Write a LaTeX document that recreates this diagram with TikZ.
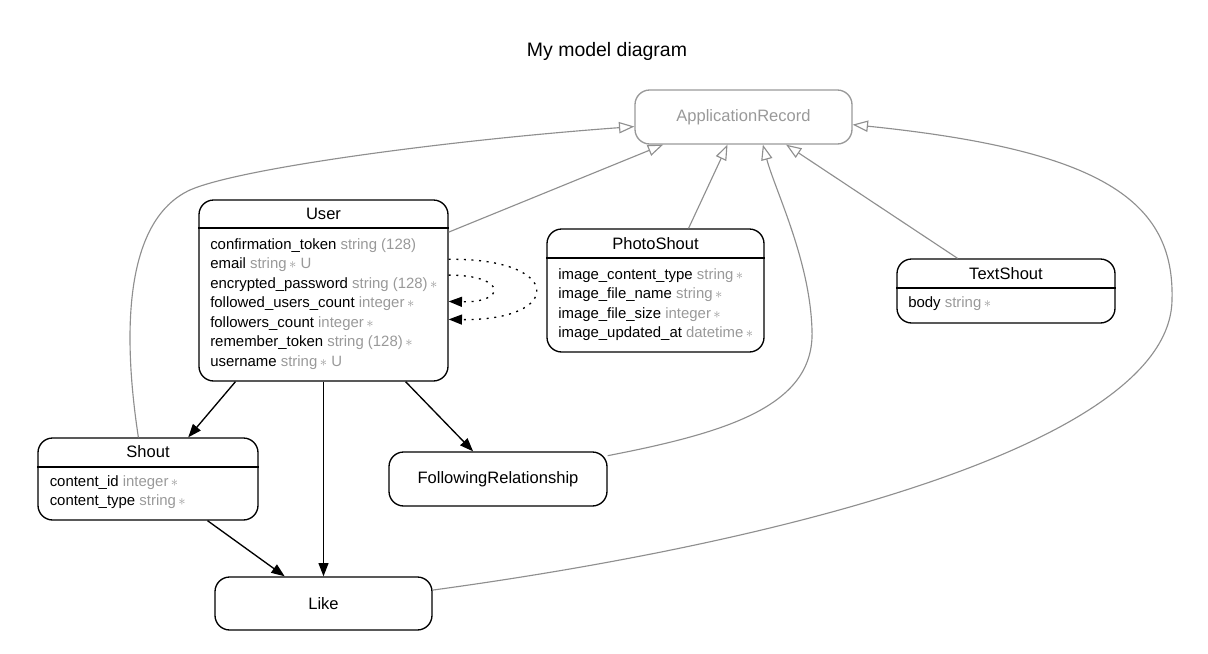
\documentclass[tikz,border=0pt]{standalone}
\usepackage{fontspec}
\setmainfont{Liberation Sans}
\usetikzlibrary{arrows.meta}
\definecolor{gr}{HTML}{999999}
\definecolor{grline}{HTML}{8F8F8F}
\newcommand\ty[1]{\textcolor{gr}{#1}}
\newcommand\reqstar{\,$\ast$}
\begin{document}
\begin{tikzpicture}[x=0.75pt,y=-0.75pt,
  box/.style={draw, line width=1pt, rounded corners=11pt, inner sep=0pt, font=\fontsize{12.4}{14}\selectfont},
  hdr/.style={font=\fontsize{12.4}{14}\selectfont, inner sep=0pt},
  attr/.style={font=\fontsize{11.2}{13}\selectfont, anchor=west, inner sep=0pt, text height=8pt, text depth=2pt},
  sepline/.style={line width=1pt},
  inh/.style={draw=grline, line width=0.85pt, -{Triangle[open, length=11.5pt, width=8.5pt]}},
  assoc/.style={draw=black, line width=1pt, -{Triangle[length=10pt, width=7.5pt]}},
  selfref/.style={draw=black, line width=1pt, dash pattern=on 1.5pt off 4.2pt, -{Triangle[length=10pt, width=7.5pt]}}]
\useasboundingbox (0,0) rectangle (1208,654);

\node[font=\fontsize{14.6}{17}\selectfont, inner sep=0pt] (title) at (607,51) {My model diagram};

% ApplicationRecord
\node[box, draw=gr, text=gr, minimum width=162.75pt, minimum height=40.5pt] (ar) at (743.5,117) {ApplicationRecord};

% User
\node[box, minimum width=186.75pt, minimum height=135.75pt] (user) at (323.5,290.5) {};
\coordinate (uline) at (0,228);
\draw[sepline] (user.west |- uline) -- (user.east |- uline);
\node[hdr] (userh) at (323.5,214) {User};
\node[attr] (u1) at (210,245) {confirmation\_token \ty{string (128)}};
\node[attr] (u2) at (210,264.5) {email \ty{string\reqstar{} U}};
\node[attr] (u3) at (210,284) {encrypted\_password \ty{string (128)\reqstar}};
\node[attr] (u4) at (210,303.5) {followed\_users\_count \ty{integer\reqstar}};
\node[attr] (u5) at (210,323) {followers\_count \ty{integer\reqstar}};
\node[attr] (u6) at (210,342.5) {remember\_token \ty{string (128)\reqstar}};
\node[attr] (u7) at (210,362) {username \ty{string\reqstar{} U}};

% PhotoShout
\node[box, minimum width=162.75pt, minimum height=92.25pt] (ps) at (655.5,290.5) {};
\coordinate (psline) at (0,258);
\draw[sepline] (ps.west |- psline) -- (ps.east |- psline);
\node[hdr] (psh) at (655.5,244) {PhotoShout};
\node[attr] (p1) at (558,275) {image\_content\_type \ty{string\reqstar}};
\node[attr] (p2) at (558,294.5) {image\_file\_name \ty{string\reqstar}};
\node[attr] (p3) at (558,314) {image\_file\_size \ty{integer\reqstar}};
\node[attr] (p4) at (558,333.5) {image\_updated\_at \ty{datetime\reqstar}};

% TextShout
\node[box, minimum width=163.5pt, minimum height=48pt] (ts) at (1006,291) {};
\coordinate (tsline) at (0,288);
\draw[sepline] (ts.west |- tsline) -- (ts.east |- tsline);
\node[hdr] (tsh) at (1006,274) {TextShout};
\node[attr] (t1) at (908,303) {body \ty{string\reqstar}};

% Shout
\node[box, minimum width=165pt, minimum height=61.5pt] (shout) at (148,479) {};
\coordinate (shline) at (0,467);
\draw[sepline] (shout.west |- shline) -- (shout.east |- shline);
\node[hdr] (shh) at (148,452) {Shout};
\node[attr] (s1) at (49.5,482) {content\_id \ty{integer\reqstar}};
\node[attr] (s2) at (49.5,501.5) {content\_type \ty{string\reqstar}};

% FollowingRelationship
\node[box, minimum width=163.5pt, minimum height=40.5pt] (fr) at (498,479) {FollowingRelationship};

% Like
\node[box, minimum width=162.75pt, minimum height=39.75pt] (like) at (323.5,603.5) {Like};

% inheritance edges
\draw[inh] (user.25.2) -- (ar.199);
\draw[inh] (ps.62.9) -- (ar.240.1);
\draw[inh] (ts.146.9) -- (ar.327);
\draw[inh] (shout.103.7) .. controls (122,330) and (125,220) .. (190,190) .. controls (240,168) and (450,140) .. (ar.185.3);
\draw[inh] (fr.12.4) .. controls (730,432) and (815,405) .. (812,330) .. controls (810,260) and (775,190) .. (ar.305.8);
\draw[inh] (like.7.1) .. controls (800,540) and (1170,440) .. (1172,300) .. controls (1175,200) and (1100,150) .. (ar.356.8);

% associations
\draw[assoc] (user.226.9) -- (shout.46.4);
\draw[assoc] (user.south) -- (like.north);
\draw[assoc] (user.312.7) -- (fr.132.8);
\draw[assoc] (shout.325.2) -- (like.145.5);
\draw[selfref] (user.14.6) .. controls (564,258) and (564,321) .. (user.-13.8);
\draw[selfref] (user.7.1) .. controls (507,275) and (507,303) .. (user.-5.7);
\end{tikzpicture}
\end{document}
